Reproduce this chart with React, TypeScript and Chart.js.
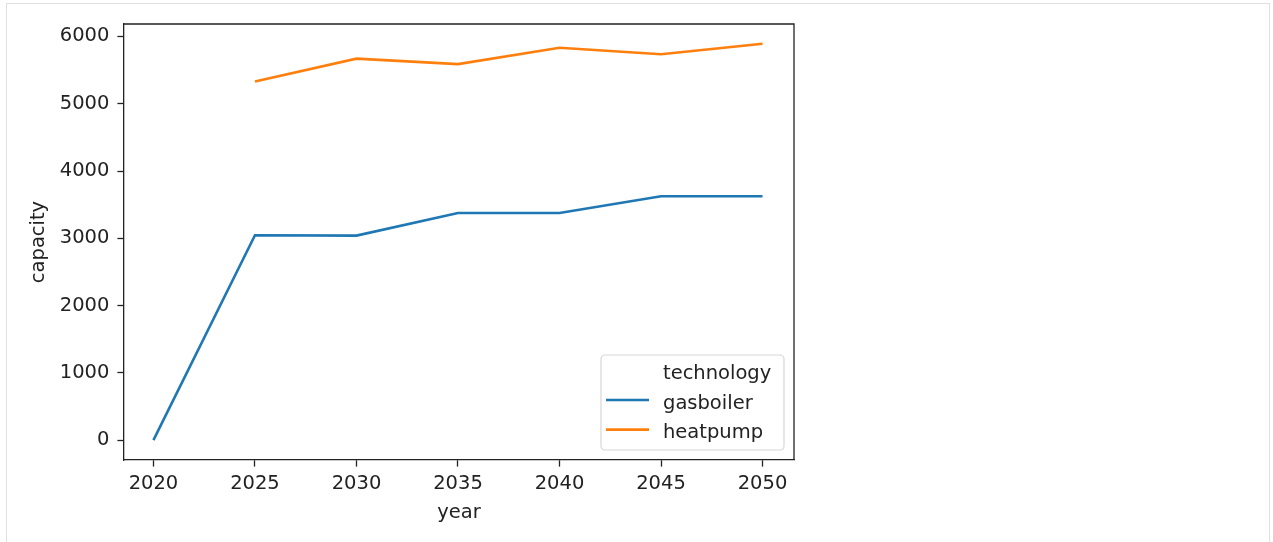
import React, { useEffect, useRef } from "react";
import { Chart, registerables } from "chart.js";

Chart.register(...registerables);

// Installed capacity per technology and year
const years = [2020, 2025, 2030, 2035, 2040, 2045, 2050];
const gasboilerYears = [2020, 2025, 2030, 2035, 2040, 2045, 2050];
const gasboilerCapacity = [0, 3046, 3040, 3377, 3377, 3625, 3625];
const heatpumpYears = [2025, 2030, 2035, 2040, 2045, 2050];
const heatpumpCapacity = [5331, 5670, 5588, 5831, 5736, 5890];
const yTicks = [0, 1000, 2000, 3000, 4000, 5000, 6000];
const legendTitle = "technology";

const BLUE = "#1f77b4";
const ORANGE = "#ff7f0e";
const FONT = "'DejaVu Sans', sans-serif";
const FONT_SIZE = 19.5;
const INK = "#222";

// Closes the plot box (top and right spines) and draws a boxed legend in the lower right
const framePlugin = {
  id: "frameAndLegend",
  afterDatasetsDraw(chart: any) {
    const { ctx, chartArea } = chart;
    const { left, top, right, bottom } = chartArea;
    ctx.save();
    ctx.strokeStyle = INK;
    ctx.lineWidth = 1.3;
    ctx.beginPath();
    ctx.moveTo(left, top);
    ctx.lineTo(right, top);
    ctx.lineTo(right, bottom);
    ctx.stroke();

    // legend box
    const bw = 183;
    const bh = 95;
    const bx = right - 10 - bw;
    const by = bottom - 10 - bh;
    ctx.beginPath();
    ctx.roundRect(bx, by, bw, bh, 4);
    ctx.fillStyle = "rgba(255,255,255,0.8)";
    ctx.fill();
    ctx.strokeStyle = "rgba(204,204,204,0.8)";
    ctx.lineWidth = 1.2;
    ctx.stroke();

    ctx.font = `${FONT_SIZE}px ${FONT}`;
    ctx.fillStyle = INK;
    ctx.textAlign = "left";
    ctx.textBaseline = "alphabetic";
    const textX = bx + 62;
    ctx.fillText(legendTitle, textX, by + 24);
    chart.data.datasets.forEach((ds: any, i: number) => {
      const ly = by + 45 + i * 29.6;
      ctx.strokeStyle = ds.borderColor;
      ctx.lineWidth = ds.borderWidth;
      ctx.beginPath();
      ctx.moveTo(bx + 5, ly);
      ctx.lineTo(bx + 48, ly);
      ctx.stroke();
      ctx.fillStyle = INK;
      ctx.fillText(ds.label, textX, ly + 8.5);
    });
    ctx.restore();
  },
};

export default function App() {
  const canvasRef = useRef<HTMLCanvasElement | null>(null);

  useEffect(() => {
    const canvas = canvasRef.current;
    if (!canvas) return;
    const chart = new Chart(canvas, {
      type: "line",
      data: {
        datasets: [
          {
            label: "gasboiler",
            data: gasboilerYears.map((x, i) => ({ x, y: gasboilerCapacity[i] })),
            borderColor: BLUE,
            backgroundColor: BLUE,
            borderWidth: 2.6,
            pointRadius: 0,
            tension: 0,
          },
          {
            label: "heatpump",
            data: heatpumpYears.map((x, i) => ({ x, y: heatpumpCapacity[i] })),
            borderColor: ORANGE,
            backgroundColor: ORANGE,
            borderWidth: 2.6,
            pointRadius: 0,
            tension: 0,
          },
        ],
      },
      options: {
        responsive: false,
        animation: false,
        devicePixelRatio: 1,
        layout: { padding: { top: 24, right: 479, left: 0, bottom: 0 } },
        plugins: {
          legend: { display: false },
          tooltip: { enabled: false },
        },
        scales: {
          x: {
            type: "linear",
            min: 2018.55,
            max: 2051.55,
            afterBuildTicks: (scale: any) => {
              scale.ticks = years.map((v) => ({ value: v }));
            },
            afterFit: (scale: any) => {
              scale.height = 82;
            },
            ticks: {
              callback: (v: any) => String(v),
              font: { family: FONT, size: FONT_SIZE },
              color: INK,
              padding: 6,
              maxRotation: 0,
              autoSkip: false,
            },
            grid: {
              display: true,
              drawOnChartArea: false,
              drawTicks: true,
              tickLength: 6.6,
              tickWidth: 1.3,
              tickColor: INK,
            },
            border: { display: true, color: INK, width: 1.3 },
            title: {
              display: true,
              text: "year",
              font: { family: FONT, size: FONT_SIZE },
              color: INK,
              padding: { top: 0, bottom: 17.5 },
            },
          },
          y: {
            type: "linear",
            min: -294.5,
            max: 6184.5,
            afterBuildTicks: (scale: any) => {
              scale.ticks = yTicks.map((v) => ({ value: v }));
            },
            afterFit: (scale: any) => {
              scale.width = 124;
            },
            ticks: {
              callback: (v: any) => String(v),
              font: { family: FONT, size: FONT_SIZE },
              color: INK,
              padding: 8,
              autoSkip: false,
            },
            grid: {
              display: true,
              drawOnChartArea: false,
              drawTicks: true,
              tickLength: 6.6,
              tickWidth: 1.3,
              tickColor: INK,
            },
            border: { display: true, color: INK, width: 1.3 },
            title: {
              display: true,
              text: "capacity",
              font: { family: FONT, size: FONT_SIZE },
              color: INK,
              padding: { top: 27, bottom: 0 },
            },
          },
        },
      },
      plugins: [framePlugin],
    } as any);
    return () => chart.destroy();
  }, []);

  return (
    <div
      style={{
        position: "fixed",
        left: 0,
        top: 0,
        width: 1273,
        height: 542,
        background: "#fff",
        overflow: "hidden",
      }}
    >
      <div
        style={{
          position: "absolute",
          left: 6,
          top: 3,
          width: 1264,
          height: 600,
          border: "1px solid #e0e0e0",
          boxSizing: "border-box",
        }}
      />
      <canvas
        ref={canvasRef}
        width={1273}
        height={542}
        style={{ position: "absolute", left: 0, top: 0, width: 1273, height: 542 }}
      />
    </div>
  );
}
